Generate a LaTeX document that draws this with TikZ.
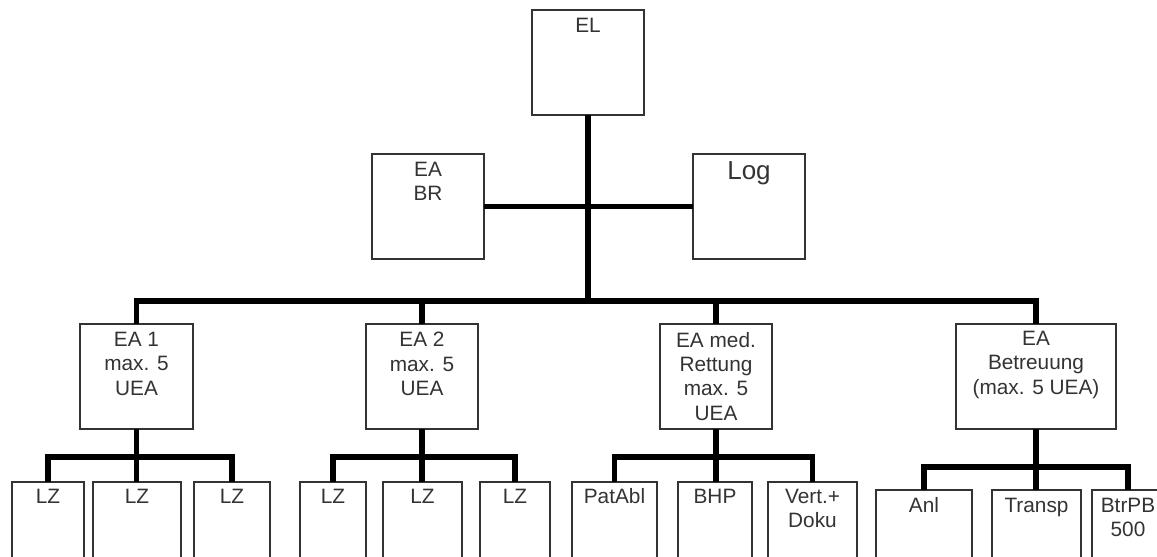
\documentclass[tikz,border=0pt]{standalone}
\usepackage{fontspec}
\setmainfont{Liberation Sans}
\begin{document}
\begin{tikzpicture}[x=1pt,y=-1pt,
  box/.style={draw=black!80, line width=1.3pt, anchor=north west, inner sep=0pt, outer sep=0pt, minimum height=105pt},
  kid/.style={box, minimum height=150pt},
  conn/.style={line width=5.3pt, line join=miter, draw=black},
  lbl/.style={anchor=north, inner sep=0pt, align=center, text=black!80, font=\fontsize{20.8}{24.3}\selectfont}]
\useasboundingbox (0,0) rectangle (1157,557);
\clip (0,0) rectangle (1157,557);
% top level boxes
\node[box, minimum width=112pt] (el) at (532,10) {};
\node[box, minimum width=112pt] (eabr) at (372,154) {};
\node[box, minimum width=112pt] (log) at (693,154) {};
\node[box, minimum width=113pt] (ea1) at (80,324) {};
\node[box, minimum width=112pt] (ea2) at (366,324) {};
\node[box, minimum width=112pt] (emed) at (660,324) {};
\node[box, minimum width=160pt] (ebt) at (956,324) {};
% children
\node[kid, minimum width=72pt] (lz1) at (12,482) {};
\node[kid, minimum width=88pt] (lz2) at (93,482) {};
\node[kid, minimum width=76pt] (lz3) at (194,482) {};
\node[kid, minimum width=66pt] (lz4) at (300,482) {};
\node[kid, minimum width=79pt] (lz5) at (383,482) {};
\node[kid, minimum width=70pt] (lz6) at (480,482) {};
\node[kid, minimum width=85pt] (pat) at (572,482) {};
\node[kid, minimum width=74pt] (bhp) at (678,482) {};
\node[kid, minimum width=89pt] (vert) at (768,482) {};
\node[kid, minimum width=96pt] (anl) at (876,490) {};
\node[kid, minimum width=89pt] (trn) at (992,490) {};
\node[kid, minimum width=72pt] (btr) at (1092,490) {};
% labels
\node[lbl] (el-t) at ([yshift=-7.5pt]el.north) {EL};
\node[lbl] (eabr-t) at ([yshift=-7.5pt]eabr.north) {EA\\BR};
\node[lbl, font=\fontsize{26}{30}\selectfont] (log-t) at ([yshift=-7.5pt]log.north) {Log};
\node[lbl] (ea1-t) at ([yshift=-8pt]ea1.north) {EA 1\\max. 5\\UEA};
\node[lbl] (ea2-t) at ([yshift=-8pt]ea2.north) {EA 2\\max. 5\\UEA};
\node[lbl] (emed-t) at ([yshift=-8pt]emed.north) {EA med.\\Rettung\\max. 5\\UEA};
\node[lbl] (ebt-t) at ([yshift=-7pt]ebt.north) {EA\\Betreuung\\(max. 5 UEA)};
\foreach \n in {lz1,lz2,lz3,lz4,lz5,lz6}{
  \node[lbl] (\n-t) at ([yshift=-6.5pt]\n.north) {LZ};
}
\node[lbl] (pat-t) at ([yshift=-6.5pt]pat.north) {PatAbl};
\node[lbl] (bhp-t) at ([yshift=-6.5pt]bhp.north) {BHP};
\node[lbl] (vert-t) at ([yshift=-6.5pt]vert.north) {Vert.+\\Doku};
\node[lbl] (anl-t) at ([yshift=-7.5pt]anl.north) {Anl};
\node[lbl] (trn-t) at ([yshift=-7.5pt]trn.north) {Transp};
\node[lbl] (btr-t) at ([yshift=-7.5pt]btr.north) {BtrPB\\500};
% bus coordinates
\coordinate (bus) at (588,301);
\coordinate (s1) at (0,457);
\coordinate (s4) at (0,467);
% connectors
\draw[conn] (el.south) -- (el.south |- bus);
\draw[conn] (eabr.east) -- (log.west);
\draw[conn] (ea1.north) -- (ea1.north |- bus) -- (ebt.north |- bus) -- (ebt.north);
\draw[conn] (ea2.north) -- (ea2.north |- bus);
\draw[conn] (emed.north) -- (emed.north |- bus);
% group 1
\draw[conn] (lz1.north) -- (lz1.north |- s1) -- (lz3.north |- s1) -- (lz3.north);
\draw[conn] (ea1.south) -- (ea1.south |- lz2.north);
% group 2
\draw[conn] (lz4.north) -- (lz4.north |- s1) -- (lz6.north |- s1) -- (lz6.north);
\draw[conn] (ea2.south) -- (ea2.south |- lz5.north);
% group 3
\draw[conn] (pat.north) -- (pat.north |- s1) -- (vert.north |- s1) -- (vert.north);
\draw[conn] (emed.south) -- (emed.south |- bhp.north);
% group 4
\draw[conn] (anl.north) -- (anl.north |- s4) -- (btr.north |- s4) -- (btr.north);
\draw[conn] (ebt.south) -- (ebt.south |- trn.north);
\end{tikzpicture}
\end{document}
